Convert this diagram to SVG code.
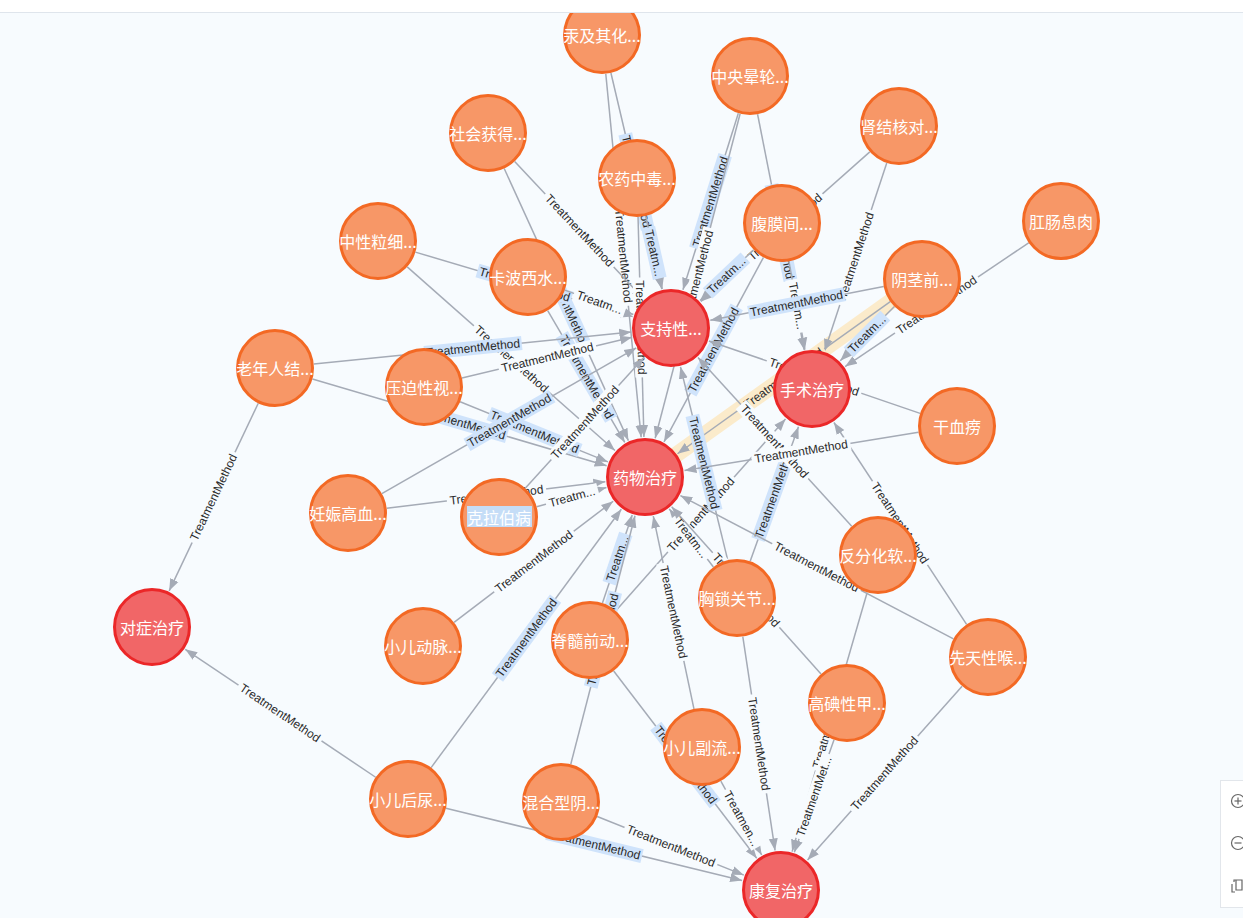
<svg xmlns="http://www.w3.org/2000/svg" width="1243" height="918" viewBox="0 0 1243 918">
<defs>
<marker id="arr" markerUnits="userSpaceOnUse" markerWidth="13" markerHeight="10" refX="12" refY="5" orient="auto"><path d="M0,0.5 L12,5 L0,9.5 z" fill="#a5abb6"/></marker>
<style>
.e{stroke:#a5abb6;stroke-width:1.5;fill:none}
.lb{fill:#f7fbfe}
.lbb{fill:#cfe3fb}
.lbh{fill:#fbebcb}
.t{font-family:"Liberation Sans",Arial,sans-serif;font-size:12px;fill:#2a2a2a;text-anchor:middle;dominant-baseline:central}
.no circle{fill:#f79767;stroke:#f36924;stroke-width:3}
.nr circle{fill:#f16667;stroke:#eb2728;stroke-width:3}
.n text{font-family:"Noto Sans CJK SC","Noto Sans",sans-serif;font-size:16px;fill:#fff;text-anchor:middle;dominant-baseline:central}
.ic{fill:none;stroke:#666;stroke-width:1.2}
</style>
</defs>
<rect width="1243" height="918" fill="#f7fbfe"/>
<g id="connectors">
<line x1="922" y1="279" x2="645" y2="477" stroke="#fbebcb" stroke-width="16"/>
<g transform="translate(602,35) rotate(76.75)"><line class="e" x1="39" y1="0" x2="261" y2="0" marker-end="url(#arr)"/><g transform="translate(150.5,0)"><rect class="lbb" x="-49" y="-7" width="98" height="14"/><text class="t">TreatmentMethod</text></g></g>
<g transform="translate(602,35) rotate(84.44)"><line class="e" x1="39" y1="0" x2="404.1" y2="0" marker-end="url(#arr)"/><g transform="translate(222,0)"><rect class="lb" x="-50" y="-7" width="100" height="14"/><text class="t">TreatmentMethod</text></g></g>
<g transform="translate(750,76) rotate(107.41)"><line class="e" x1="39" y1="0" x2="224.1" y2="0" marker-end="url(#arr)"/><g transform="translate(132,0) rotate(180)"><rect class="lbb" x="-49" y="-7" width="98" height="14"/><text class="t">TreatmentMethod</text></g></g>
<g transform="translate(750,76) rotate(104.67)"><line class="e" x1="39" y1="0" x2="374.5" y2="0" marker-end="url(#arr)"/><g transform="translate(207,0) rotate(180)"><rect class="lb" x="-50" y="-7" width="100" height="14"/><text class="t">TreatmentMethod</text></g></g>
<g transform="translate(750,76) rotate(78.8)"><line class="e" x1="39" y1="0" x2="279.1" y2="0" marker-end="url(#arr)"/><g transform="translate(159.5,0)"><rect class="lbb" x="-49" y="-7" width="98" height="14"/><text class="t">TreatmentMethod</text></g></g>
<g transform="translate(488,133) rotate(46.83)"><line class="e" x1="39" y1="0" x2="227.4" y2="0" marker-end="url(#arr)"/><g transform="translate(133.7,0)"><rect class="lb" x="-50" y="-7" width="100" height="14"/><text class="t">TreatmentMethod</text></g></g>
<g transform="translate(488,133) rotate(65.47)"><line class="e" x1="39" y1="0" x2="338.1" y2="0" marker-end="url(#arr)"/><g transform="translate(189,0)"><rect class="lbb" x="-49" y="-7" width="98" height="14"/><text class="t">TreatmentMethod</text></g></g>
<g transform="translate(899,126) rotate(138.46)"><line class="e" x1="39" y1="0" x2="264.6" y2="0" marker-end="url(#arr)"/><g transform="translate(152.3,0) rotate(180)"><rect class="lb" x="-50" y="-7" width="100" height="14"/><text class="t">TreatmentMethod</text></g></g>
<g transform="translate(899,126) rotate(108.3)"><line class="e" x1="39" y1="0" x2="237" y2="0" marker-end="url(#arr)"/><g transform="translate(138.5,0) rotate(180)"><rect class="lb" x="-50" y="-7" width="100" height="14"/><text class="t">TreatmentMethod</text></g></g>
<g transform="translate(637,178) rotate(77.23)"><line class="e" x1="39" y1="0" x2="113.8" y2="0" marker-end="url(#arr)"/><g transform="translate(76.9,0)"><rect class="lbb" x="-26" y="-7" width="52" height="14"/><text class="t">Treatm...</text></g></g>
<g transform="translate(637,178) rotate(88.47)"><line class="e" x1="39" y1="0" x2="259.1" y2="0" marker-end="url(#arr)"/><g transform="translate(149.5,0)"><rect class="lb" x="-50" y="-7" width="100" height="14"/><text class="t">TreatmentMethod</text></g></g>
<g transform="translate(782,223) rotate(136.6)"><line class="e" x1="39" y1="0" x2="112.8" y2="0" marker-end="url(#arr)"/><g transform="translate(76.4,0) rotate(180)"><rect class="lbb" x="-26" y="-7" width="52" height="14"/><text class="t">Treatm...</text></g></g>
<g transform="translate(782,223) rotate(118.34)"><line class="e" x1="39" y1="0" x2="248.6" y2="0" marker-end="url(#arr)"/><g transform="translate(144.3,0) rotate(180)"><rect class="lbb" x="-49" y="-7" width="98" height="14"/><text class="t">TreatmentMethod</text></g></g>
<g transform="translate(782,223) rotate(79.76)"><line class="e" x1="39" y1="0" x2="128.7" y2="0" marker-end="url(#arr)"/><g transform="translate(84.3,0)"><rect class="lb" x="-27" y="-7" width="54" height="14"/><text class="t">Treatm...</text></g></g>
<g transform="translate(1061,221) rotate(146)"><line class="e" x1="39" y1="0" x2="260.4" y2="0" marker-end="url(#arr)"/><g transform="translate(150.2,0) rotate(180)"><rect class="lb" x="-50" y="-7" width="100" height="14"/><text class="t">TreatmentMethod</text></g></g>
<g transform="translate(922,279) rotate(168.95)"><line class="e" x1="39" y1="0" x2="215.7" y2="0" marker-end="url(#arr)"/><g transform="translate(127.8,0) rotate(180)"><rect class="lbb" x="-49" y="-7" width="98" height="14"/><text class="t">TreatmentMethod</text></g></g>
<g transform="translate(922,279) rotate(144.44)"><line class="e" x1="39" y1="0" x2="300.5" y2="0" marker-end="url(#arr)"/><g transform="translate(170.2,0) rotate(180)"><rect class="lbh" x="-50" y="-7" width="100" height="14"/><text class="t">TreatmentMethod</text></g></g>
<g transform="translate(922,279) rotate(135)"><line class="e" x1="39" y1="0" x2="115.6" y2="0" marker-end="url(#arr)"/><g transform="translate(77.8,0) rotate(180)"><rect class="lbb" x="-26" y="-7" width="52" height="14"/><text class="t">Treatm...</text></g></g>
<g transform="translate(378,241) rotate(16.54)"><line class="e" x1="39" y1="0" x2="265.6" y2="0" marker-end="url(#arr)"/><g transform="translate(152.8,0)"><rect class="lbb" x="-49" y="-7" width="98" height="14"/><text class="t">TreatmentMethod</text></g></g>
<g transform="translate(378,241) rotate(41.48)"><line class="e" x1="39" y1="0" x2="316.3" y2="0" marker-end="url(#arr)"/><g transform="translate(178.1,0)"><rect class="lb" x="-50" y="-7" width="100" height="14"/><text class="t">TreatmentMethod</text></g></g>
<g transform="translate(528,277) rotate(19.63)"><line class="e" x1="39" y1="0" x2="111.8" y2="0" marker-end="url(#arr)"/><g transform="translate(75.9,0)"><rect class="lb" x="-27" y="-7" width="54" height="14"/><text class="t">Treatm...</text></g></g>
<g transform="translate(528,277) rotate(59.67)"><line class="e" x1="39" y1="0" x2="191.7" y2="0" marker-end="url(#arr)"/><g transform="translate(115.8,0)"><rect class="lbb" x="-49" y="-7" width="98" height="14"/><text class="t">TreatmentMethod</text></g></g>
<g transform="translate(275,368) rotate(-5.77)"><line class="e" x1="39" y1="0" x2="358" y2="0" marker-end="url(#arr)"/><g transform="translate(199,0)"><rect class="lbb" x="-49" y="-7" width="98" height="14"/><text class="t">TreatmentMethod</text></g></g>
<g transform="translate(275,368) rotate(16.41)"><line class="e" x1="39" y1="0" x2="345.7" y2="0" marker-end="url(#arr)"/><g transform="translate(192.8,0)"><rect class="lbb" x="-49" y="-7" width="98" height="14"/><text class="t">TreatmentMethod</text></g></g>
<g transform="translate(275,368) rotate(115.4)"><line class="e" x1="39" y1="0" x2="246.7" y2="0" marker-end="url(#arr)"/><g transform="translate(143.3,0) rotate(180)"><rect class="lb" x="-50" y="-7" width="100" height="14"/><text class="t">TreatmentMethod</text></g></g>
<g transform="translate(424,387) rotate(-13.43)"><line class="e" x1="39" y1="0" x2="213.9" y2="0" marker-end="url(#arr)"/><g transform="translate(126.9,0)"><rect class="lb" x="-50" y="-7" width="100" height="14"/><text class="t">TreatmentMethod</text></g></g>
<g transform="translate(424,387) rotate(22.16)"><line class="e" x1="39" y1="0" x2="198.6" y2="0" marker-end="url(#arr)"/><g transform="translate(119.3,0)"><rect class="lbb" x="-49" y="-7" width="98" height="14"/><text class="t">TreatmentMethod</text></g></g>
<g transform="translate(348,513) rotate(-29.8)"><line class="e" x1="39" y1="0" x2="332.2" y2="0" marker-end="url(#arr)"/><g transform="translate(186.1,0)"><rect class="lbb" x="-49" y="-7" width="98" height="14"/><text class="t">TreatmentMethod</text></g></g>
<g transform="translate(348,513) rotate(-6.91)"><line class="e" x1="39" y1="0" x2="259.2" y2="0" marker-end="url(#arr)"/><g transform="translate(149.6,0)"><rect class="lb" x="-50" y="-7" width="100" height="14"/><text class="t">TreatmentMethod</text></g></g>
<g transform="translate(499,517) rotate(-15.32)"><line class="e" x1="39" y1="0" x2="111.4" y2="0" marker-end="url(#arr)"/><g transform="translate(75.7,0)"><rect class="lb" x="-27" y="-7" width="54" height="14"/><text class="t">Treatm...</text></g></g>
<g transform="translate(499,517) rotate(-47.7)"><line class="e" x1="39" y1="0" x2="215.5" y2="0" marker-end="url(#arr)"/><g transform="translate(127.7,0)"><rect class="lb" x="-50" y="-7" width="100" height="14"/><text class="t">TreatmentMethod</text></g></g>
<g transform="translate(423,646) rotate(-37.28)"><line class="e" x1="39" y1="0" x2="239" y2="0" marker-end="url(#arr)"/><g transform="translate(139.5,0)"><rect class="lb" x="-50" y="-7" width="100" height="14"/><text class="t">TreatmentMethod</text></g></g>
<g transform="translate(408,799) rotate(-146.1)"><line class="e" x1="39" y1="0" x2="268.4" y2="0" marker-end="url(#arr)"/><g transform="translate(154.2,0) rotate(180)"><rect class="lb" x="-50" y="-7" width="100" height="14"/><text class="t">TreatmentMethod</text></g></g>
<g transform="translate(408,799) rotate(-53.64)"><line class="e" x1="39" y1="0" x2="359.8" y2="0" marker-end="url(#arr)"/><g transform="translate(199.9,0)"><rect class="lbb" x="-49" y="-7" width="98" height="14"/><text class="t">TreatmentMethod</text></g></g>
<g transform="translate(408,799) rotate(13.71)"><line class="e" x1="39" y1="0" x2="343.9" y2="0" marker-end="url(#arr)"/><g transform="translate(191.9,0)"><rect class="lbb" x="-49" y="-7" width="98" height="14"/><text class="t">TreatmentMethod</text></g></g>
<g transform="translate(590,640) rotate(-71.36)"><line class="e" x1="39" y1="0" x2="132" y2="0" marker-end="url(#arr)"/><g transform="translate(86,0)"><rect class="lbb" x="-26" y="-7" width="52" height="14"/><text class="t">Treatm...</text></g></g>
<g transform="translate(590,640) rotate(52.62)"><line class="e" x1="39" y1="0" x2="274.6" y2="0" marker-end="url(#arr)"/><g transform="translate(157.3,0)"><rect class="lbb" x="-49" y="-7" width="98" height="14"/><text class="t">TreatmentMethod</text></g></g>
<g transform="translate(590,640) rotate(-48.51)"><line class="e" x1="39" y1="0" x2="295.1" y2="0" marker-end="url(#arr)"/><g transform="translate(167.5,0)"><rect class="lb" x="-50" y="-7" width="100" height="14"/><text class="t">TreatmentMethod</text></g></g>
<g transform="translate(561,802) rotate(-75.51)"><line class="e" x1="39" y1="0" x2="295.7" y2="0" marker-end="url(#arr)"/><g transform="translate(167.8,0)"><rect class="lbb" x="-49" y="-7" width="98" height="14"/><text class="t">TreatmentMethod</text></g></g>
<g transform="translate(561,802) rotate(21.8)"><line class="e" x1="39" y1="0" x2="196.9" y2="0" marker-end="url(#arr)"/><g transform="translate(118.4,0)"><rect class="lb" x="-50" y="-7" width="100" height="14"/><text class="t">TreatmentMethod</text></g></g>
<g transform="translate(702,747) rotate(-101.92)"><line class="e" x1="39" y1="0" x2="236" y2="0" marker-end="url(#arr)"/><g transform="translate(138,0) rotate(180)"><rect class="lb" x="-50" y="-7" width="100" height="14"/><text class="t">TreatmentMethod</text></g></g>
<g transform="translate(702,747) rotate(61.08)"><line class="e" x1="39" y1="0" x2="123.4" y2="0" marker-end="url(#arr)"/><g transform="translate(81.7,0)"><rect class="lb" x="-33" y="-7" width="66" height="14"/><text class="t">Treatmen...</text></g></g>
<g transform="translate(737,598) rotate(-103.74)"><line class="e" x1="39" y1="0" x2="238" y2="0" marker-end="url(#arr)"/><g transform="translate(139,0) rotate(180)"><rect class="lbb" x="-49" y="-7" width="98" height="14"/><text class="t">TreatmentMethod</text></g></g>
<g transform="translate(737,598) rotate(-70.26)"><line class="e" x1="39" y1="0" x2="182" y2="0" marker-end="url(#arr)"/><g transform="translate(111,0)"><rect class="lbb" x="-49" y="-7" width="98" height="14"/><text class="t">TreatmentMethod</text></g></g>
<g transform="translate(737,598) rotate(-127.25)"><line class="e" x1="39" y1="0" x2="112" y2="0" marker-end="url(#arr)"/><g transform="translate(76,0) rotate(180)"><rect class="lb" x="-27" y="-7" width="54" height="14"/><text class="t">Treatm...</text></g></g>
<g transform="translate(737,598) rotate(81.43)"><line class="e" x1="39" y1="0" x2="255.3" y2="0" marker-end="url(#arr)"/><g transform="translate(147.6,0)"><rect class="lb" x="-50" y="-7" width="100" height="14"/><text class="t">TreatmentMethod</text></g></g>
<g transform="translate(878,555) rotate(-132.36)"><line class="e" x1="39" y1="0" x2="267.2" y2="0" marker-end="url(#arr)"/><g transform="translate(153.6,0) rotate(180)"><rect class="lb" x="-50" y="-7" width="100" height="14"/><text class="t">TreatmentMethod</text></g></g>
<g transform="translate(878,555) rotate(106.15)"><line class="e" x1="39" y1="0" x2="308.8" y2="0" marker-end="url(#arr)"/><g transform="translate(174.4,0) rotate(180)"><rect class="lb" x="-50" y="-7" width="100" height="14"/><text class="t">TreatmentMethod</text></g></g>
<g transform="translate(847,703) rotate(109.44)"><line class="e" x1="39" y1="0" x2="158.3" y2="0" marker-end="url(#arr)"/><g transform="translate(99.1,0) rotate(180)"><rect class="lb" x="-45" y="-7" width="90" height="14"/><text class="t">TreatmentMet...</text></g></g>
<g transform="translate(847,703) rotate(-131.79)"><line class="e" x1="39" y1="0" x2="263.1" y2="0" marker-end="url(#arr)"/><g transform="translate(151.5,0) rotate(180)"><rect class="lb" x="-50" y="-7" width="100" height="14"/><text class="t">TreatmentMethod</text></g></g>
<g transform="translate(988,657) rotate(-152.31)"><line class="e" x1="39" y1="0" x2="347.4" y2="0" marker-end="url(#arr)"/><g transform="translate(193.7,0) rotate(180)"><rect class="lb" x="-50" y="-7" width="100" height="14"/><text class="t">TreatmentMethod</text></g></g>
<g transform="translate(988,657) rotate(-123.3)"><line class="e" x1="39" y1="0" x2="280.6" y2="0" marker-end="url(#arr)"/><g transform="translate(160.3,0) rotate(180)"><rect class="lb" x="-50" y="-7" width="100" height="14"/><text class="t">TreatmentMethod</text></g></g>
<g transform="translate(988,657) rotate(131.62)"><line class="e" x1="39" y1="0" x2="271.7" y2="0" marker-end="url(#arr)"/><g transform="translate(155.8,0) rotate(180)"><rect class="lb" x="-50" y="-7" width="100" height="14"/><text class="t">TreatmentMethod</text></g></g>
<g transform="translate(957,426) rotate(170.72)"><line class="e" x1="39" y1="0" x2="276.1" y2="0" marker-end="url(#arr)"/><g transform="translate(158,0) rotate(180)"><rect class="lb" x="-50" y="-7" width="100" height="14"/><text class="t">TreatmentMethod</text></g></g>
<g transform="translate(957,426) rotate(-161.09)"><line class="e" x1="39" y1="0" x2="262.3" y2="0" marker-end="url(#arr)"/><g transform="translate(151.1,0) rotate(180)"><rect class="lb" x="-50" y="-7" width="100" height="14"/><text class="t">TreatmentMethod</text></g></g>
</g>
<g id="n-gong" class="n no"><circle cx="602" cy="35" r="37.5"/><text x="602" y="35">汞及其化...</text></g>
<g id="n-zhongyang" class="n no"><circle cx="750" cy="76" r="37.5"/><text x="750" y="76">中央晕轮...</text></g>
<g id="n-shehui" class="n no"><circle cx="488" cy="133" r="37.5"/><text x="488" y="133">社会获得...</text></g>
<g id="n-shenjiehe" class="n no"><circle cx="899" cy="126" r="37.5"/><text x="899" y="126">肾结核对...</text></g>
<g id="n-nongyao" class="n no"><circle cx="637" cy="178" r="37.5"/><text x="637" y="178">农药中毒...</text></g>
<g id="n-fumo" class="n no"><circle cx="782" cy="223" r="37.5"/><text x="782" y="223">腹膜间...</text></g>
<g id="n-gangchang" class="n no"><circle cx="1061" cy="221" r="37.5"/><text x="1061" y="221">肛肠息肉</text></g>
<g id="n-zhongxing" class="n no"><circle cx="378" cy="241" r="37.5"/><text x="378" y="241">中性粒细...</text></g>
<g id="n-kabo" class="n no"><circle cx="528" cy="277" r="37.5"/><text x="528" y="277">卡波西水...</text></g>
<g id="n-yinjing" class="n no"><circle cx="922" cy="279" r="37.5"/><text x="922" y="279">阴茎前...</text></g>
<g id="n-laonian" class="n no"><circle cx="275" cy="368" r="37.5"/><text x="275" y="368">老年人结...</text></g>
<g id="n-yapo" class="n no"><circle cx="424" cy="387" r="37.5"/><text x="424" y="387">压迫性视...</text></g>
<g id="n-ganxue" class="n no"><circle cx="957" cy="426" r="37.5"/><text x="957" y="426">干血痨</text></g>
<g id="n-renshen" class="n no"><circle cx="348" cy="513" r="37.5"/><text x="348" y="513">妊娠高血...</text></g>
<g id="n-kela" class="n no"><circle cx="499" cy="517" r="37.5"/><rect x="467" y="506" width="65" height="21" fill="#c5ddf7"/><text x="499" y="517">克拉伯病</text></g>
<g id="n-fanfen" class="n no"><circle cx="878" cy="555" r="37.5"/><text x="878" y="555">反分化软...</text></g>
<g id="n-xiongsuo" class="n no"><circle cx="737" cy="598" r="37.5"/><text x="737" y="598">胸锁关节...</text></g>
<g id="n-xiaoerdong" class="n no"><circle cx="423" cy="646" r="37.5"/><text x="423" y="646">小儿动脉...</text></g>
<g id="n-jisui" class="n no"><circle cx="590" cy="640" r="37.5"/><text x="590" y="640">脊髓前动...</text></g>
<g id="n-xiantian" class="n no"><circle cx="988" cy="657" r="37.5"/><text x="988" y="657">先天性喉...</text></g>
<g id="n-gaodian" class="n no"><circle cx="847" cy="703" r="37.5"/><text x="847" y="703">高碘性甲...</text></g>
<g id="n-xiaoerfu" class="n no"><circle cx="702" cy="747" r="37.5"/><text x="702" y="747">小儿副流...</text></g>
<g id="n-xiaoerhou" class="n no"><circle cx="408" cy="799" r="37.5"/><text x="408" y="799">小儿后尿...</text></g>
<g id="n-hunhe" class="n no"><circle cx="561" cy="802" r="37.5"/><text x="561" y="802">混合型阴...</text></g>
<g id="n-zhichi" class="n nr"><circle cx="671" cy="328" r="37.5"/><text x="671" y="328">支持性...</text></g>
<g id="n-shoushu" class="n nr"><circle cx="812" cy="389" r="37.5"/><text x="812" y="389">手术治疗</text></g>
<g id="n-yaowu" class="n nr"><circle cx="645" cy="477" r="37.5"/><text x="645" y="477">药物治疗</text></g>
<g id="n-duizheng" class="n nr"><circle cx="152" cy="627" r="37.5"/><text x="152" y="627">对症治疗</text></g>
<g id="n-kangfu" class="n nr"><circle cx="781" cy="890" r="37.5"/><text x="781" y="890">康复治疗</text></g>
<rect x="0" y="0" width="1243" height="12" fill="#fff"/>
<line x1="0" y1="12.5" x2="1243" y2="12.5" stroke="#dfe5ec" stroke-width="1"/>
<g id="toolbar">
<rect x="1220.5" y="780.5" width="30" height="127" fill="#fff" stroke="#e2e6eb"/>
<circle class="ic" cx="1238" cy="801" r="6.5"/><line class="ic" x1="1234.5" y1="801" x2="1241.5" y2="801"/><line class="ic" x1="1238" y1="797.5" x2="1238" y2="804.5"/>
<circle class="ic" cx="1238" cy="843" r="6.5"/><line class="ic" x1="1234.5" y1="843" x2="1241.5" y2="843"/>
<path class="ic" d="M1234,882 v-2 h3 M1232,884 v8 h3 M1236,880 h6 v10 h-6 z"/>
</g>
</svg>
